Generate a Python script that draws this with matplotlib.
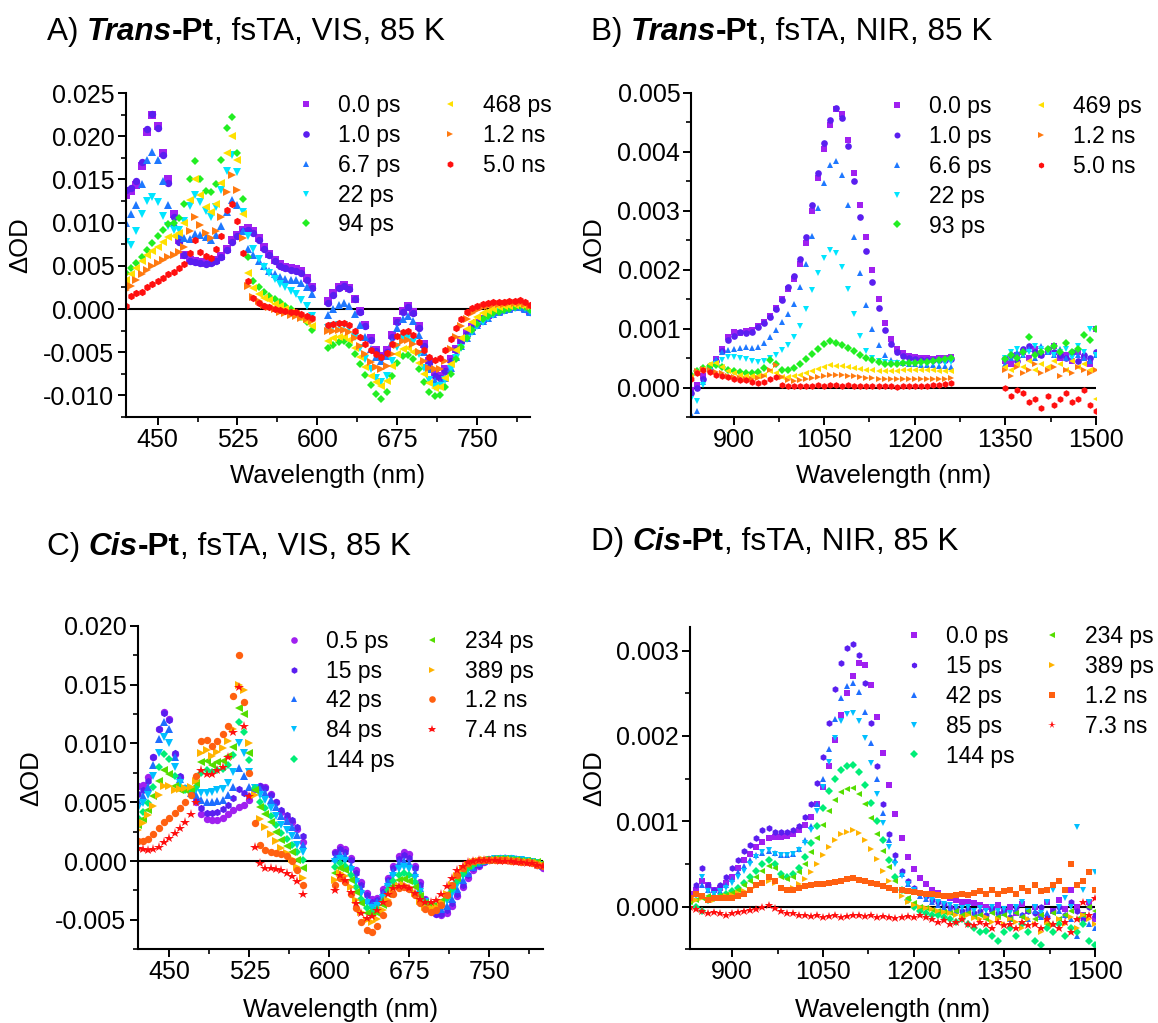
import numpy as np
import matplotlib.pyplot as plt
from matplotlib.ticker import MultipleLocator, FormatStrFormatter

plt.rcParams['font.family'] = ['Liberation Sans', 'DejaVu Sans']
plt.rcParams['axes.unicode_minus'] = False

# ---------------- data ----------------
# VIS spectra in units of 1e-4 OD, NIR spectra in units of 1e-5 OD

# A) Trans-Pt VIS
a_x1 = np.arange(420, 600, 5)
a_x2 = np.arange(610, 805, 5)
a_labels = ["0.0 ps", "1.0 ps", "6.7 ps", "22 ps", "94 ps", "468 ps", "1.2 ns", "5.0 ns"]
a_0ps_1 = [132, 136, 144, 165, 205, 225, 212, 180, 150, 110, 80, 63, 57, 55, 54, 53, 54, 57, 61, 70,
           80, 86, 91, 94, 90, 82, 72, 64, 57, 52, 49, 47, 46, 44, 36, 26]
a_0ps_2 = [9, 18, 26, 28, 24, 12, -2, -18, -34, -47, -54, -48, -30, -14, -2, 3, -4, -20, -40, -60,
           -74, -78, -70, -58, -46, -36, -28, -21, -16, -11, -7, -4, -2, 0, 1, 2, 3, 1, -2]
a_1ps_1 = [138, 140, 148, 170, 208, 226, 210, 178, 146, 106, 78, 62, 56, 54, 53, 52, 53, 56, 60, 68,
           78, 85, 90, 92, 88, 80, 70, 62, 55, 50, 47, 45, 44, 42, 34, 24]
a_1ps_2 = [7, 16, 24, 27, 23, 11, -4, -20, -36, -49, -56, -50, -32, -15, -3, 2, -5, -22, -43, -63,
           -77, -80, -72, -60, -47, -37, -29, -22, -16, -11, -7, -4, -2, 0, 1, 2, 2, 0, -3]
a_7ps_1 = [100, 110, 120, 145, 172, 182, 172, 148, 120, 100, 86, 82, 81, 87, 86, 83, 80, 86, 96, 112,
           126, 120, 90, 70, 62, 55, 50, 44, 40, 37, 35, 34, 33, 30, 25, 17]
a_7ps_2 = [-7, 0, 5, 7, 4, -6, -18, -32, -46, -56, -60, -54, -38, -22, -12, -8, -14, -30, -50, -70,
           -83, -86, -80, -68, -55, -43, -33, -25, -19, -14, -10, -6, -3, -1, 0, 2, 2, 0, -3]
a_22ps_1 = [78, 74, 90, 110, 125, 130, 124, 108, 96, 92, 92, 102, 119, 132, 124, 114, 106, 118, 138, 160,
            178, 158, 112, 84, 70, 58, 49, 42, 35, 29, 25, 21, 17, 10, 3, -8]
a_22ps_2 = [-22, -20, -18, -18, -22, -32, -45, -58, -70, -80, -84, -78, -60, -44, -34, -32, -38, -52, -68, -82,
            -90, -89, -82, -70, -57, -45, -35, -27, -20, -15, -10, -7, -4, -2, 0, 1, 2, 1, -2]
a_94ps_1 = [42, 48, 53, 60, 68, 76, 84, 92, 98, 100, 105, 122, 150, 171, 150, 136, 135, 145, 173, 210,
            222, 180, 127, 60, 32, 25, 20, 15, 12, 8, 3, 0, -5, -9, -15, -24]
a_94ps_2 = [-45, -42, -38, -37, -42, -52, -64, -76, -88, -98, -104, -96, -78, -62, -54, -53, -58, -70, -84, -96,
            -101, -100, -90, -75, -58, -44, -33, -24, -17, -12, -8, -5, -3, -1, 0, 2, 3, 2, -1]
a_468ps_1 = [34, 40, 48, 55, 62, 67, 72, 78, 83, 85, 88, 100, 126, 150, 132, 118, 112, 122, 146, 180,
             200, 172, 110, 42, 24, 17, 13, 10, 6, 3, 0, -3, -6, -10, -15, -20]
a_468ps_2 = [-37, -34, -32, -32, -36, -45, -56, -67, -77, -85, -89, -83, -66, -52, -46, -45, -50, -62, -75, -86,
             -91, -90, -80, -64, -48, -34, -23, -15, -9, -5, -2, 0, 2, 3, 4, 5, 5, 4, 2]
a_1ns_1 = [22, 27, 34, 40, 45, 50, 53, 57, 60, 62, 66, 72, 90, 107, 97, 88, 82, 90, 106, 135,
           155, 138, 82, 27, 14, 9, 5, 2, 0, -3, -5, -7, -8, -10, -12, -14]
a_1ns_2 = [-26, -25, -24, -24, -27, -34, -43, -52, -61, -67, -70, -66, -52, -42, -37, -36, -40, -50, -60, -68,
           -70, -69, -60, -46, -32, -20, -11, -5, -1, 2, 4, 5, 6, 6, 7, 7, 7, 6, 4]
a_5ns_1 = [3, 15, 18, 20, 25, 29, 32, 36, 40, 43, 47, 52, 65, 80, 66, 61, 59, 70, 84, 115,
           122, 102, 65, 32, 13, 7, 4, 2, 0, -1, -2, -3, -4, -6, -8, -10]
a_5ns_2 = [-18, -17, -16, -16, -19, -25, -32, -40, -47, -52, -55, -51, -40, -31, -27, -26, -30, -38, -47, -55,
           -59, -57, -48, -35, -22, -11, -4, 1, 4, 6, 7, 8, 8, 8, 9, 9, 10, 8, 5]

# B) Trans-Pt NIR
b_x1 = np.arange(830, 1270, 10)
b_x2 = np.arange(1350, 1510, 10)
b_labels = ["0.0 ps", "1.0 ps", "6.6 ps", "22 ps", "93 ps", "469 ps", "1.2 ns", "5.0 ns"]
b_0ps_1 = [-5, 5, 20, 35, 48, 65, 85, 95, 92, 96, 98, 105, 112, 122, 135, 150, 168, 185, 210, 245,
           300, 355, 405, 445, 472, 465, 420, 365, 310, 255, 200, 150, 110, 82, 66, 58, 54, 52, 50, 50,
           49, 50, 50, 52]
b_0ps_2 = [45, 40, 55, 60, 50, 65, 55, 60, 70, 50, 55, 45, 60, 50, 40, 100]
b_1ps_1 = [-10, 0, 15, 30, 45, 62, 80, 88, 95, 92, 95, 102, 110, 120, 133, 148, 170, 190, 218, 255,
           310, 365, 415, 455, 475, 458, 410, 350, 290, 232, 180, 135, 98, 74, 60, 53, 50, 48, 47, 47,
           46, 47, 47, 48]
b_1ps_2 = [50, 55, 45, 65, 70, 60, 55, 65, 60, 55, 50, 60, 45, 55, 50, 60]
b_7ps_1 = [-45, -40, 10, 35, 48, 60, 64, 66, 67, 68, 67, 68, 75, 85, 98, 112, 125, 142, 170, 210,
           258, 305, 348, 378, 385, 360, 310, 255, 195, 140, 100, 72, 56, 47, 43, 41, 40, 40, 39, 38,
           38, 37, 36, 35]
b_7ps_2 = [40, 50, 60, 55, 65, 50, 70, 60, 55, 65, 50, 60, 55, 50, 45, 55]
b_22ps_1 = [-20, -22, 5, 28, 40, 47, 52, 52, 50, 48, 45, 43, 45, 50, 56, 63, 72, 85, 105, 133,
            165, 195, 220, 233, 228, 205, 168, 125, 88, 62, 50, 45, 43, 42, 41, 40, 40, 40, 40, 40,
            41, 41, 42, 43]
b_22ps_2 = [50, 60, 65, 55, 60, 70, 65, 60, 55, 60, 65, 50, 70, 60, 100, 55]
b_93ps_1 = [22, 28, 33, 36, 38, 35, 30, 28, 26, 25, 24, 26, 33, 47, 40, 30, 30, 34, 40, 48,
            57, 66, 74, 79, 75, 72, 67, 62, 56, 50, 46, 43, 40, 40, 40, 41, 41, 42, 43, 44,
            45, 46, 48, 50]
b_93ps_2 = [48, 55, 50, 60, 85, 55, 60, 65, 70, 60, 75, 60, 65, 90, 80, 100]
b_469ps_1 = [18, 25, 32, 40, 42, 35, 28, 25, 22, 20, 19, 19, 22, 28, 25, 18, 18, 20, 22, 25,
             28, 32, 35, 38, 37, 36, 35, 33, 31, 30, 29, 28, 28, 28, 28, 29, 29, 30, 30, 29,
             29, 28, 28, 28]
b_469ps_2 = [35, 30, 40, 35, 45, 30, 40, 35, 45, 40, 30, 45, 35, 40, 30, -20]
b_1ns_1 = [20, 28, 32, 30, 27, 24, 20, 18, 16, 15, 15, 16, 20, 30, 38, 18, 12, 11, 12, 14,
           16, 18, 20, 22, 22, 21, 20, 19, 18, 17, 16, 15, 15, 15, 14, 14, 14, 14, 14, 15,
           15, 15, 15, 16]
b_1ns_2 = [30, 20, 35, 25, 30, 40, 25, 30, 35, 20, 30, 25, 35, 30, 25, 30]
b_5ns_1 = [15, 25, 30, 26, 22, 20, 18, 15, 13, 12, 10, 8, 10, 14, 18, 4, 2, 2, 3, 2,
           3, 4, 3, 4, 4, 3, 4, 3, 2, 3, 2, 2, 3, 2, 1, 2, 2, 3, 2, 3,
           4, 4, 6, 8]
b_5ns_2 = [0, -15, -5, -10, -25, -20, -35, -15, -30, -20, -10, -25, -20, -5, -30, -40]

# C) Cis-Pt VIS
c_x1 = np.arange(420, 580, 5)
c_x2 = np.arange(605, 805, 5)
c_labels = ["0.5 ps", "15 ps", "42 ps", "84 ps", "144 ps", "234 ps", "389 ps", "1.2 ns", "7.4 ns"]
c_05ps_1 = [64, 65, 71, 88, 112, 127, 121, 91, 71, 62, 58, 50, 40, 36, 35, 35, 37, 40, 43, 46,
            48, 52, 61, 64, 63, 57, 50, 42, 37, 33, 27, 16]
c_05ps_2 = [8, 12, 10, 3, -8, -18, -27, -32, -31, -24, -14, -4, 4, 8, 6, -4, -18, -32, -41, -45,
            -46, -44, -38, -30, -22, -14, -8, -4, -1, 1, 2, 3, 3, 3, 2, 1, 0, -1, -3, -6]
c_15ps_1 = [57, 60, 68, 88, 112, 126, 120, 92, 72, 62, 58, 52, 45, 41, 41, 42, 44, 48, 54, 61,
            58, 55, 62, 64, 62, 56, 50, 43, 39, 35, 29, 21]
c_15ps_2 = [7, 10, 8, 1, -10, -20, -29, -35, -33, -26, -16, -6, 2, 5, 3, -6, -20, -33, -41, -45,
            -45, -42, -36, -28, -20, -12, -6, -3, 0, 1, 2, 3, 3, 2, 2, 1, 0, -1, -2, -4]
c_42ps_1 = [51, 55, 63, 82, 104, 118, 112, 88, 70, 62, 58, 56, 52, 50, 50, 51, 52, 56, 63, 79,
            72, 63, 62, 61, 58, 52, 46, 38, 34, 29, 22, 14]
c_42ps_2 = [3, 6, 4, -4, -14, -24, -33, -37, -35, -28, -18, -9, -2, 0, -2, -10, -23, -34, -40, -42,
            -41, -38, -32, -24, -16, -10, -5, -2, 0, 1, 2, 2, 3, 2, 2, 1, 0, -1, -2, -4]
c_84ps_1 = [45, 49, 56, 72, 92, 105, 100, 80, 66, 61, 59, 60, 58, 58, 59, 60, 61, 66, 76, 100,
            92, 76, 62, 56, 52, 45, 38, 31, 26, 21, 14, 8]
c_84ps_2 = [-1, 2, 0, -8, -18, -28, -36, -40, -38, -31, -22, -13, -7, -5, -7, -14, -26, -35, -40, -40,
            -38, -34, -28, -20, -13, -8, -4, -1, 0, 1, 2, 2, 2, 2, 1, 1, 0, -1, -2, -3]
c_144ps_1 = [37, 42, 49, 63, 80, 91, 87, 72, 63, 60, 60, 63, 75, 77, 76, 77, 78, 82, 90, 118,
             110, 86, 62, 50, 45, 38, 31, 24, 19, 14, 8, 1]
c_144ps_2 = [-5, -2, -4, -12, -22, -32, -40, -43, -41, -34, -25, -17, -12, -10, -12, -18, -28, -36, -38, -38,
             -36, -31, -24, -17, -11, -6, -3, -1, 0, 1, 2, 2, 2, 2, 1, 0, 0, -1, -2, -3]
c_234ps_1 = [31, 36, 43, 55, 68, 77, 74, 64, 60, 60, 61, 66, 84, 85, 82, 84, 85, 89, 97, 130,
             125, 92, 60, 46, 40, 33, 25, 18, 13, 8, 1, -6]
c_234ps_2 = [-10, -6, -8, -16, -26, -36, -44, -46, -44, -37, -28, -21, -16, -15, -17, -22, -30, -36, -37, -37,
             -34, -28, -21, -14, -8, -4, -2, 0, 1, 1, 2, 2, 2, 1, 1, 0, 0, -1, -1, -2]
c_389ps_1 = [26, 32, 39, 47, 56, 64, 64, 60, 61, 62, 63, 68, 92, 94, 89, 93, 96, 102, 112, 150,
             145, 100, 56, 36, 29, 23, 17, 11, 7, 2, -5, -14]
c_389ps_2 = [-16, -10, -13, -22, -33, -43, -50, -52, -49, -42, -33, -26, -21, -20, -22, -27, -34, -39, -40, -39,
             -35, -28, -20, -13, -7, -3, -1, 0, 1, 1, 1, 1, 1, 1, 0, 0, -1, -1, -2, -3]
c_1ns_1 = [17, 17, 19, 23, 28, 33, 37, 41, 45, 50, 56, 72, 102, 103, 98, 102, 108, 115, 140, 175,
           135, 75, 32, 14, 9, 8, 7, 6, 4, 0, -8, -20]
c_1ns_2 = [-20, -14, -18, -28, -40, -52, -59, -60, -55, -46, -36, -28, -23, -22, -24, -29, -36, -41, -43, -42,
           -37, -29, -20, -12, -6, -2, 0, 1, 1, 1, 1, 1, 1, 0, 0, -1, -1, -2, -3, -4]
c_7ns_1 = [11, 10, 9, 10, 12, 16, 20, 24, 28, 33, 40, 50, 77, 74, 74, 77, 80, 88, 110, 148,
           115, 55, 12, -2, -6, -6, -7, -8, -10, -13, -17, -28]
c_7ns_2 = [-25, -12, -16, -26, -36, -44, -48, -47, -42, -35, -28, -23, -21, -21, -23, -27, -32, -35, -35, -33,
           -28, -21, -14, -8, -4, -1, 0, 1, 1, 1, 1, 0, 0, 0, -1, -1, -2, -2, -3, -4]

# D) Cis-Pt NIR
d_x = np.arange(830, 1510, 10)
d_labels = ["0.0 ps", "15 ps", "42 ps", "85 ps", "144 ps", "234 ps", "389 ps", "1.2 ns", "7.3 ns"]
d_0ps = [15, 20, 30, 25, 20, 22, 28, 35, 45, 55, 62, 70, 76, 80, 82, 82, 83, 85, 90, 96,
         105, 120, 140, 165, 195, 225, 250, 270, 285, 283, 260, 222, 180, 142, 108, 80, 58, 44, 34, 27,
         20, 16, 13, 10, 8, 6, 5, 4, 2, 0, -3, 2, -5, 0, -8, 3, -5, 0, -10, 5,
         -5, 8, -3, 20, 0, -10, 5, -15]
d_15ps = [10, 25, 45, 25, 20, 25, 35, 45, 55, 65, 72, 80, 90, 92, 88, 87, 88, 90, 95, 105,
          120, 145, 175, 215, 255, 285, 303, 308, 295, 262, 215, 165, 120, 85, 60, 42, 30, 22, 16, 12,
          8, 5, 3, 0, -2, -5, -3, -8, -5, -10, -3, -8, -5, -12, 0, -10, -5, -8, 0, -12,
          -5, 0, -10, 5, -5, -15, 0, -10]
d_42ps = [10, 15, 25, 20, 15, 18, 25, 32, 40, 48, 55, 60, 63, 65, 63, 60, 60, 62, 68, 78,
          95, 120, 150, 185, 220, 245, 258, 262, 252, 228, 192, 150, 110, 78, 55, 38, 27, 19, 13, 9,
          5, 2, 0, -3, -5, -8, -5, -10, -8, -12, -5, -10, -8, -15, -5, -10, -15, -5, -12, -8,
          -20, -5, -10, -15, -35, -10, -20, -25]
d_85ps = [8, 12, 35, 18, 15, 18, 22, 28, 35, 42, 50, 58, 64, 66, 62, 60, 60, 62, 66, 75,
          90, 112, 140, 170, 198, 218, 226, 227, 218, 198, 168, 132, 98, 70, 50, 36, 27, 20, 15, 11,
          8, 5, 3, 2, 0, -2, 0, -5, -2, -5, 0, -5, -3, -8, 0, 5, -5, 0, -8, 5,
          20, 0, 10, 0, 93, 20, 5, 40]
d_144ps = [5, 0, -5, 8, 10, 12, 15, 18, 22, 28, 35, 42, 50, 55, 50, 38, 35, 38, 45, 58,
           75, 95, 115, 135, 150, 160, 165, 166, 158, 142, 122, 100, 78, 55, 35, 20, 8, 0, -5, -8,
           -10, -10, -12, -15, -18, -15, -20, -25, -30, -28, -35, -40, -30, -25, -35, -20, -30, -40, -45, -25,
           -30, -20, -35, -25, -30, -20, -40, -45]
d_234ps = [5, 8, 10, 12, 10, 12, 14, 16, 20, 25, 30, 35, 42, 48, 45, 35, 32, 35, 40, 50,
           64, 80, 96, 112, 125, 134, 138, 139, 132, 120, 104, 85, 65, 46, 30, 18, 10, 4, 0, -2,
           -4, -5, -6, -8, -5, -10, -8, -12, -10, -15, -8, -12, -10, -15, -8, -12, -5, -15, -10, -20,
           -8, -15, -10, -5, -15, -10, 0, -5]
d_389ps = [5, 8, 10, 8, 8, 10, 12, 14, 16, 18, 20, 24, 28, 30, 28, 22, 20, 22, 26, 32,
           40, 50, 60, 70, 78, 85, 88, 90, 86, 78, 68, 56, 42, 30, 20, 12, 6, 2, 0, -2,
           -3, -5, -6, -8, -10, -12, -10, -13, -15, -12, -18, -15, -20, -15, -18, -25, -15, -20, -30, -18,
           -22, -15, -20, -12, -25, -10, -15, -20]
d_1ns = [10, 15, 12, 8, 10, 10, 10, 10, 12, 15, 20, 25, 28, 35, 30, 22, 20, 20, 22, 24,
         25, 26, 27, 28, 29, 30, 32, 33, 31, 30, 28, 26, 24, 22, 20, 19, 18, 17, 16, 15,
         15, 14, 12, 13, 14, 15, 14, 16, 18, 15, 20, 15, 18, 20, 15, 22, 18, 25, 18, 20,
         25, 30, 20, 50, 25, 30, 40, 20]
d_7ns = [0, -3, -5, -8, -6, -8, -10, -8, -6, -5, -4, -3, 0, 2, -2, -5, -7, -8, -10, -10,
         -11, -10, -12, -11, -10, -12, -11, -10, -10, -11, -10, -12, -11, -12, -13, -12, -11, -12, -10, -12,
         -15, -18, -16, -20, -18, -15, -20, -22, -18, -20, -25, -18, -22, -20, -25, -18, -22, -20, -25, -15,
         -20, -25, -18, -30, -15, 5, -10, 10]

# ---------------- styles ----------------
colors_8 = ['#A020F0', '#5A1EF0', '#1E78FF', '#00E5FF', '#22EE22', '#FFE000', '#FF7A10', '#FF1010']
markers_8 = ['s', 'o', '^', 'v', 'D', '<', '>', 'h']
colors_9 = ['#A020F0', '#5A1EF0', '#1E6EFF', '#00BFFF', '#00EE77', '#55DD00', '#FFB300', '#FF6010', '#FF1010']
markers_c = ['o', 'h', '^', 'v', 'D', '<', '>', 'o', '*']
markers_d = ['s', 'h', '^', 'v', 'D', '<', '>', 's', '*']

W, H = 1158, 1023
fig = plt.figure(figsize=(W / 100, H / 100), dpi=100)


def px_axes(x0, x1, y0, y1):
    return fig.add_axes([x0 / W, 1 - y1 / H, (x1 - x0) / W, (y1 - y0) / H])


def draw(ax, segs, scale, colors, markers, ms):
    handles = []
    for i, series in enumerate(segs):
        h = None
        for x, y in series:
            m = markers[i]
            size = ms * 1.3 if m == '*' else (ms * 0.85 if m == 'D' else ms)
            h, = ax.plot(x, np.array(y) * scale, ls='none', marker=m, ms=size,
                         color=colors[i], mec=colors[i], mew=0)
        handles.append(h)
    ax.axhline(0, color='black', lw=1.5, zorder=0)
    return handles


def style(ax, xlim, ylim, xmaj, ymaj, xlab_y, ylab_x):
    ax.set_xlim(*xlim)
    ax.set_ylim(*ylim)
    for s in ['top', 'right']:
        ax.spines[s].set_visible(False)
    for s in ['left', 'bottom']:
        ax.spines[s].set_linewidth(1.5)
    ax.xaxis.set_major_locator(MultipleLocator(xmaj))
    ax.xaxis.set_minor_locator(MultipleLocator(xmaj / 2))
    ax.yaxis.set_major_locator(MultipleLocator(ymaj))
    ax.yaxis.set_minor_locator(MultipleLocator(ymaj / 2))
    ax.yaxis.set_major_formatter(FormatStrFormatter('%.3f'))
    ax.tick_params(which='major', direction='out', length=6, width=1.4, labelsize=18, pad=2)
    ax.tick_params(which='minor', direction='out', length=3.5, width=1.2)
    ax.set_xlabel("Wavelength (nm)", fontsize=18.5)
    ax.set_ylabel("ΔOD", fontsize=18.5)
    ax.xaxis.set_label_coords(0.5, xlab_y)
    ax.yaxis.set_label_coords(ylab_x, 0.53)


def legends(ax, handles, labels, split, x1, x2, ytop):
    groups = [(handles[:split], labels[:split], x1), (handles[split:], labels[split:], x2)]
    for k, (hs, ls, xl) in enumerate(groups):
        leg = ax.legend(hs, ls, loc='upper left', bbox_to_anchor=(xl / W, 1 - ytop / H),
                        bbox_transform=fig.transFigure, frameon=False, handlelength=1.0,
                        handletextpad=0.9, labelspacing=0.3, borderpad=0, borderaxespad=0,
                        fontsize=16.5, numpoints=1, markerscale=0.9)
        if k == 0:
            ax.add_artist(leg)


def title(x, y, parts):
    fig.canvas.draw()
    r = fig.canvas.get_renderer()
    for txt, weight, st in parts:
        t = fig.text(x / W, 1 - y / H, txt, fontsize=22.7, fontweight=weight, fontstyle=st,
                     ha='left', va='baseline')
        x += t.get_window_extent(renderer=r).width


# A
axA = px_axes(125.6, 530.5, 93, 417)
hA = draw(axA, [[(a_x1, a_0ps_1), (a_x2, a_0ps_2)], [(a_x1, a_1ps_1), (a_x2, a_1ps_2)],
                [(a_x1, a_7ps_1), (a_x2, a_7ps_2)], [(a_x1, a_22ps_1), (a_x2, a_22ps_2)],
                [(a_x1, a_94ps_1), (a_x2, a_94ps_2)], [(a_x1, a_468ps_1), (a_x2, a_468ps_2)],
                [(a_x1, a_1ns_1), (a_x2, a_1ns_2)], [(a_x1, a_5ns_1), (a_x2, a_5ns_2)]],
          1e-4, colors_8, markers_8, 5.3)
style(axA, (420, 800), (-0.0125, 0.025), 75, 0.005, -0.145, -0.231)
legends(axA, hA, a_labels, 5, 294.5, 439, 94)

# B
axB = px_axes(691.4, 1095.8, 93, 417)
hB = draw(axB, [[(b_x1, b_0ps_1), (b_x2, b_0ps_2)], [(b_x1, b_1ps_1), (b_x2, b_1ps_2)],
                [(b_x1, b_7ps_1), (b_x2, b_7ps_2)], [(b_x1, b_22ps_1), (b_x2, b_22ps_2)],
                [(b_x1, b_93ps_1), (b_x2, b_93ps_2)], [(b_x1, b_469ps_1), (b_x2, b_469ps_2)],
                [(b_x1, b_1ns_1), (b_x2, b_1ns_2)], [(b_x1, b_5ns_1), (b_x2, b_5ns_2)]],
          1e-5, colors_8, markers_8, 4.8)
style(axB, (830, 1500), (-0.0005, 0.005), 150, 0.001, -0.145, -0.211)
legends(axB, hB, b_labels, 5, 885.5, 1029.5, 95)

# C
axC = px_axes(137.5, 542.7, 625.7, 949.3)
hC = draw(axC, [[(c_x1, c_05ps_1), (c_x2, c_05ps_2)], [(c_x1, c_15ps_1), (c_x2, c_15ps_2)],
                [(c_x1, c_42ps_1), (c_x2, c_42ps_2)], [(c_x1, c_84ps_1), (c_x2, c_84ps_2)],
                [(c_x1, c_144ps_1), (c_x2, c_144ps_2)], [(c_x1, c_234ps_1), (c_x2, c_234ps_2)],
                [(c_x1, c_389ps_1), (c_x2, c_389ps_2)], [(c_x1, c_1ns_1), (c_x2, c_1ns_2)],
                [(c_x1, c_7ns_1), (c_x2, c_7ns_2)]],
          1e-4, colors_9, markers_c, 5.3)
style(axC, (420, 800), (-0.0075, 0.020), 75, 0.005, -0.151, -0.233)
legends(axC, hC, c_labels, 5, 282.5, 421, 629.7)

# D
axD = px_axes(689.9, 1095, 626.7, 949.3)
hD = draw(axD, [[(d_x, d_0ps)], [(d_x, d_15ps)], [(d_x, d_42ps)], [(d_x, d_85ps)],
                [(d_x, d_144ps)], [(d_x, d_234ps)], [(d_x, d_389ps)], [(d_x, d_1ns)], [(d_x, d_7ns)]],
          1e-5, colors_9, markers_d, 4.8)
style(axD, (830, 1500), (-0.0005, 0.00328), 150, 0.001, -0.151, -0.207)
legends(axD, hD, d_labels, 5, 902.3, 1041, 625)

title(46.7, 40, [("A) ", 'normal', 'normal'), ("Trans", 'bold', 'italic'),
                 ("-Pt", 'bold', 'normal'), (", fsTA, VIS, 85 K", 'normal', 'normal')])
title(590.7, 40, [("B) ", 'normal', 'normal'), ("Trans", 'bold', 'italic'),
                  ("-Pt", 'bold', 'normal'), (", fsTA, NIR, 85 K", 'normal', 'normal')])
title(46.7, 555, [("C) ", 'normal', 'normal'), ("Cis", 'bold', 'italic'),
                  ("-Pt", 'bold', 'normal'), (", fsTA, VIS, 85 K", 'normal', 'normal')])
title(590.7, 550, [("D) ", 'normal', 'normal'), ("Cis", 'bold', 'italic'),
                   ("-Pt", 'bold', 'normal'), (", fsTA, NIR, 85 K", 'normal', 'normal')])

fig.savefig("out.png", dpi=100)
